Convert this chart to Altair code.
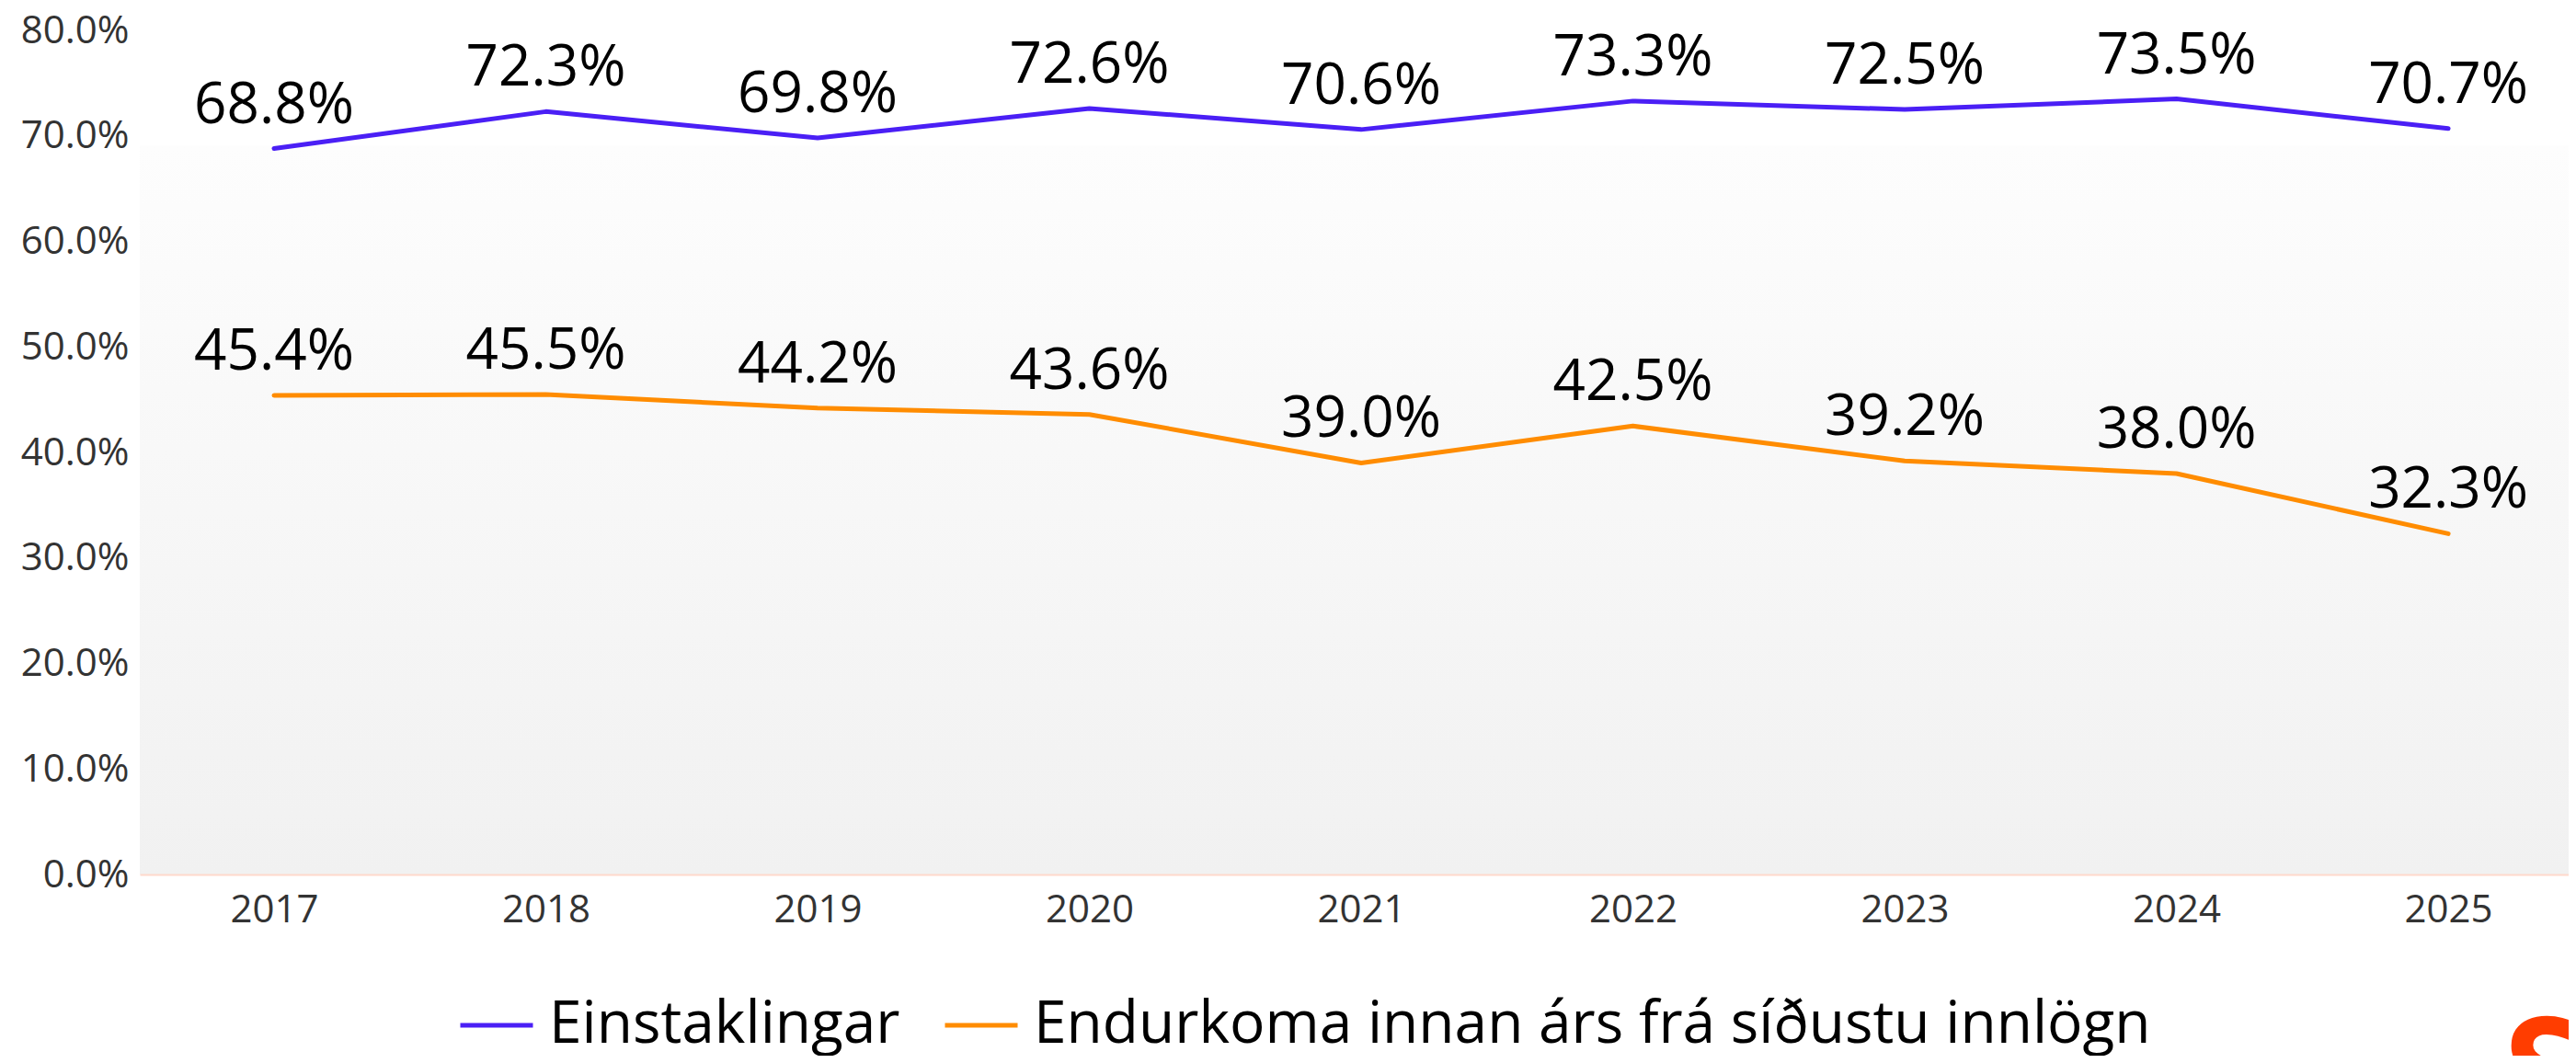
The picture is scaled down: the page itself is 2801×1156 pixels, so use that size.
import altair as alt
import pandas as pd

years = [2017, 2018, 2019, 2020, 2021, 2022, 2023, 2024, 2025]
series_names = ["Einstaklingar", "Endurkoma innan árs frá síðustu innlögn"]
einstaklingar = [68.8, 72.3, 69.8, 72.6, 70.6, 73.3, 72.5, 73.5, 70.7]
endurkoma = [45.4, 45.5, 44.2, 43.6, 39.0, 42.5, 39.2, 38.0, 32.3]
colors = ["#4a1ff5", "#ff8c00"]
y_ticks = [0, 0.1, 0.2, 0.3, 0.4, 0.5, 0.6, 0.7, 0.8]

rows = []
for name, vals in zip(series_names, [einstaklingar, endurkoma]):
    for yr, v in zip(years, vals):
        rows.append({"year": yr, "series": name, "value": v / 100})
df = pd.DataFrame(rows)

FONT = "Open Sans"
X_DOMAIN = [2016.506, 2025.443]

x_scale = alt.Scale(domain=X_DOMAIN, nice=False, zero=False)
y_scale = alt.Scale(domain=[0, 0.8], nice=False)

bg = alt.Chart(pd.DataFrame({"a": [0]})).mark_rect(
    color=alt.Gradient(
        gradient="linear", x1=0, y1=0, x2=0, y2=1,
        stops=[alt.GradientStop(color="#fdfdfd", offset=0),
               alt.GradientStop(color="#f1f1f1", offset=1)],
    )
).encode(
    x=alt.datum(X_DOMAIN[0], scale=x_scale),
    x2=alt.datum(X_DOMAIN[1]),
    y=alt.datum(0, scale=y_scale),
    y2=alt.datum(0.691),
)

base = alt.Chart(df).encode(
    x=alt.X("year:Q", scale=x_scale,
            axis=alt.Axis(values=years, format="d", title=None, ticks=False,
                          grid=False, labelFlush=False, labelPadding=18,
                          labelFontSize=42, labelColor="#333333", labelFont=FONT,
                          domainColor="#ffd9cc", domainWidth=2, zindex=1)),
    y=alt.Y("value:Q", scale=y_scale,
            axis=alt.Axis(values=y_ticks, format=".1%", title=None, ticks=False,
                          grid=False, domain=False, labelPadding=12,
                          labelFontSize=42, labelColor="#333333", labelFont=FONT)),
)

lines = base.mark_line(strokeWidth=5, strokeCap="round", strokeJoin="round").encode(
    color=alt.Color("series:N",
                    scale=alt.Scale(domain=series_names, range=colors),
                    sort=series_names,
                    legend=alt.Legend(title=None, orient="none", legendX=346, legendY=1040,
                                      direction="horizontal", symbolType="stroke",
                                      symbolSize=6241, symbolStrokeWidth=5,
                                      labelFontSize=64, labelFont=FONT, labelColor="#000000",
                                      labelOffset=15, columnPadding=38, padding=0,
                                      labelLimit=2000)),
)

labels = base.mark_text(dy=-28, fontSize=62, font=FONT, color="#000000",
                        baseline="alphabetic", align="center").encode(
    text=alt.Text("value:Q", format=".1%"),
)

logo = alt.Chart(pd.DataFrame({"t": ["S"]})).mark_text(
    fontSize=160, font=FONT, fontWeight="bold", color="#ff3d00",
    align="left", baseline="top"
).encode(text="t:N", x=alt.value(2570), y=alt.value(1061))

chart = alt.layer(bg, lines, labels, logo).properties(
    width=2641, height=918,
    background="white",
    autosize=alt.AutoSizeParams(type="none"),
    padding={"left": 144, "top": 25, "right": 0, "bottom": 197},
).configure_view(stroke="transparent", strokeWidth=0)

chart.save("out.html", embed_options={"renderer": "svg", "actions": False})
